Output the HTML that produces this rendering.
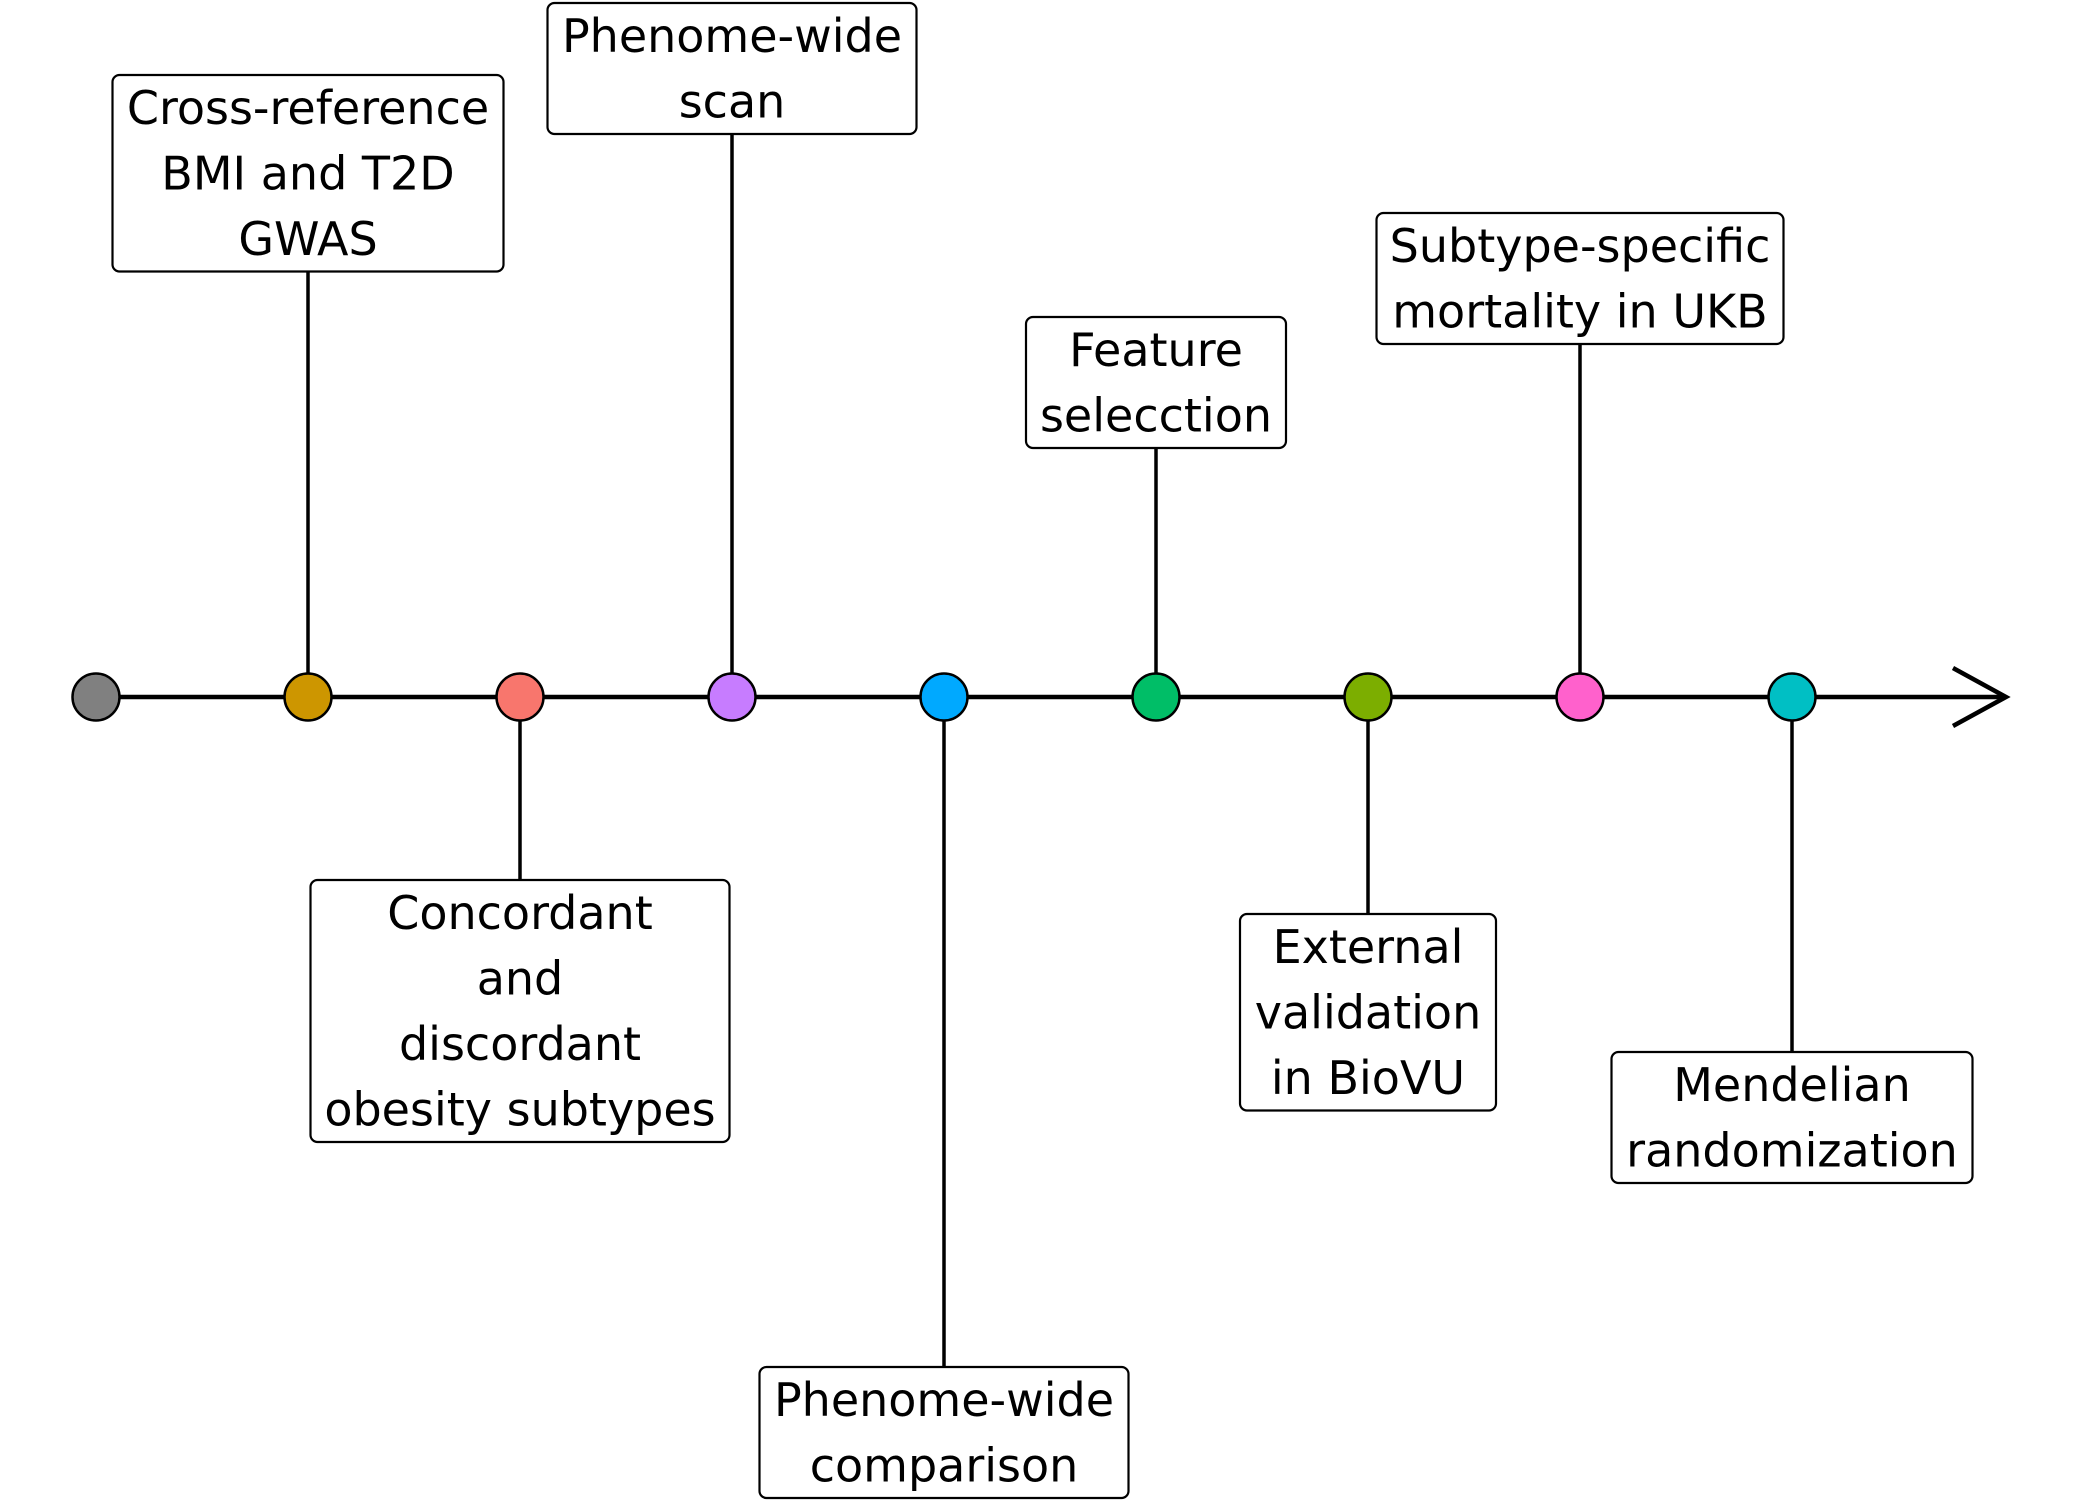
<!DOCTYPE html>
<html><head><meta charset="utf-8"><style>
html,body{margin:0;padding:0;background:#fff;}
svg{display:block;}
text{font-family:"DejaVu Sans","Liberation Sans",sans-serif;font-size:46px;fill:#000;}
</style></head>
<body>
<svg id="chart" width="2100" height="1500" viewBox="0 0 2100 1500" xmlns="http://www.w3.org/2000/svg"></svg>
<script>
const steps = [0,1,2,3,4,5,6,7,8];
const colors = ["#808080","#CD9600","#F8766D","#C77CFF","#00A9FF","#00BE67","#7CAE00","#FF61CC","#00BFC4"];
const labels = [null,
  ["Cross-reference","BMI and T2D","GWAS"],
  ["Concordant","and","discordant","obesity subtypes"],
  ["Phenome-wide","scan"],
  ["Phenome-wide","comparison"],
  ["Feature","selecction"],
  ["External","validation","in BioVU"],
  ["Subtype-specific","mortality in UKB"],
  ["Mendelian","randomization"]];
const boxTops = [null,75,880,3,1367,317,914,213,1052];
const boxWidths = [null,391,419,369,369,260,256,407,361];

const NS="http://www.w3.org/2000/svg";
const svg=document.getElementById('chart');
const axisY=697, x0=96, dx=212, r=23.5, lineH=65.5;
const xs = i => x0 + steps[i]*dx;
function mk(tag, attrs, parent){const e=document.createElementNS(NS,tag);for(const k in attrs)e.setAttribute(k,attrs[k]);(parent||svg).appendChild(e);return e;}

const axis=mk('line',{x1:x0,y1:axisY,x2:2006,y2:axisY,stroke:'#000','stroke-width':4.5});


const arrow=mk('polyline',{points:`1953,668 2006,697 1953,726`,fill:'none',stroke:'#000','stroke-width':4.5});



steps.forEach((s,i)=>{
  const x=xs(i);
  if(labels[i]){
    const top=boxTops[i], w=boxWidths[i], n=labels[i].length;
    const h=n*lineH;
    const above = top < axisY;
    const stem=mk('line',{x1:x,x2:x,y1:above?top+h:axisY,y2:above?axisY:top,stroke:'#000','stroke-width':3.5});
    
    
    const g=mk('g',{});
    
    
    mk('rect',{x:x-w/2,y:top,width:w,height:h,rx:7,ry:7,fill:'#fff',stroke:'#000','stroke-width':2.2},g);
    labels[i].forEach((t,j)=>{
      const tx=mk('text',{x:x,y:top+lineH*(j+0.5)+16,'text-anchor':'middle'},g);
      tx.textContent=t;
    });
  }
  const c=mk('circle',{cx:x,cy:axisY,r:r,fill:colors[i],stroke:'#000','stroke-width':2.5});
  
  
});
</script>
</body></html>
